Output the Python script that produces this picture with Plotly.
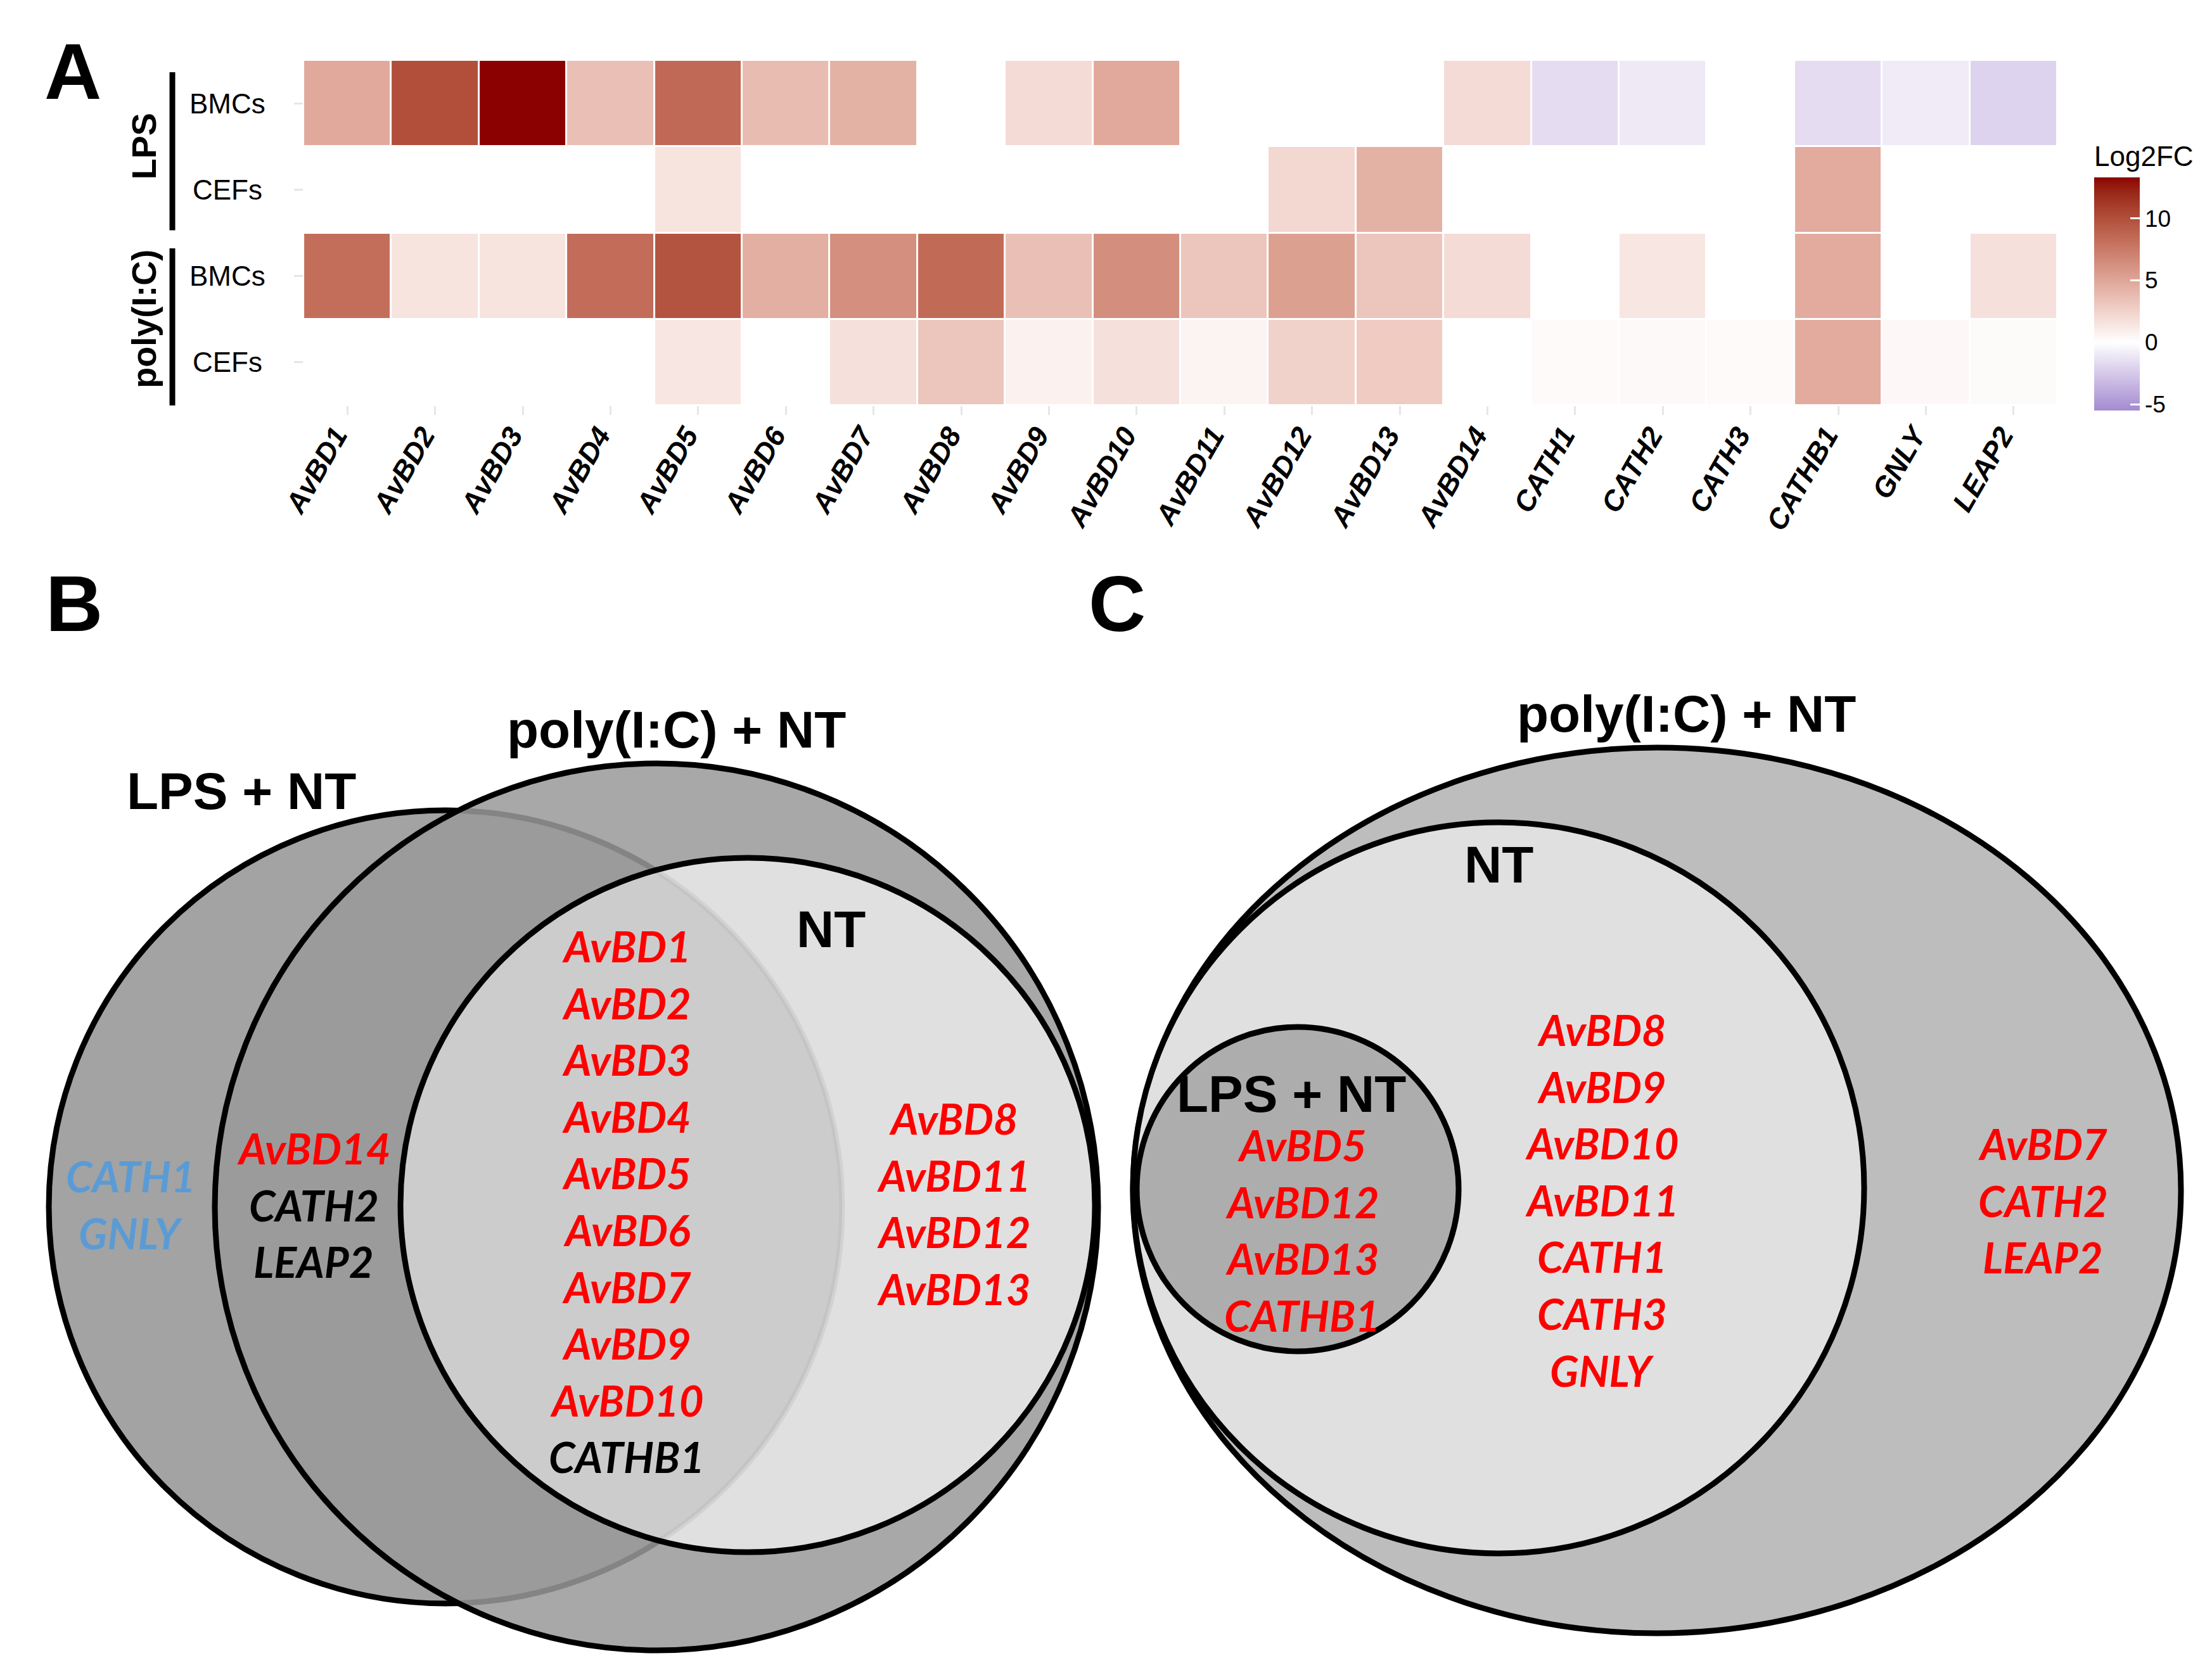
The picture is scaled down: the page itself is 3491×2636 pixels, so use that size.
import numpy as np
import plotly.graph_objects as go

# ---------------- data ----------------
genes = ["AvBD1", "AvBD2", "AvBD3", "AvBD4", "AvBD5", "AvBD6", "AvBD7", "AvBD8", "AvBD9", "AvBD10",
         "AvBD11", "AvBD12", "AvBD13", "AvBD14", "CATH1", "CATH2", "CATH3", "CATHB1", "GNLY", "LEAP2"]
row_labels = ["BMCs", "CEFs", "BMCs", "CEFs"]
group_labels = ["LPS", "poly(I:C)"]
N = None
lps_bmcs = [4.8, 10.0, 13.3, 3.5, 8.5, 3.7, 4.3, N, 2.0, 4.8, N, N, N, 2.0, -1.6, -1.0, N, -1.6, -0.9, -2.0]
lps_cefs = [N, N, N, N, 1.5, N, N, N, N, N, N, 2.2, 4.3, N, N, N, N, 4.7, N, N]
pic_bmcs = [8.2, 1.5, 1.5, 8.3, 9.7, 4.5, 6.3, 8.4, 3.5, 6.4, 3.2, 5.3, 3.2, 2.0, N, 1.4, N, 4.7, N, 1.7]
pic_cefs = [N, N, N, N, 1.4, N, 1.7, 3.2, 0.8, 1.7, 0.6, 2.5, 2.9, N, 0.3, 0.35, 0.3, 4.7, 0.4, 0.25]
cbar_ticks = [-5, 0, 5, 10]
cbar_ticktext = ["-5", "0", "5", "10"]
zmin, zmax = -5.5, 13.3

# Venn gene lists (text, colour key)
B_lps_only = ["CATH1", "GNLY"]
B_lps_only_c = ["blue", "blue"]
B_lps_poly = ["AvBD14", "CATH2", "LEAP2"]
B_lps_poly_c = ["red", "black", "black"]
B_all = ["AvBD1", "AvBD2", "AvBD3", "AvBD4", "AvBD5", "AvBD6", "AvBD7", "AvBD9", "AvBD10", "CATHB1"]
B_all_c = ["red"] * 9 + ["black"]
B_nt_poly = ["AvBD8", "AvBD11", "AvBD12", "AvBD13"]
B_nt_poly_c = ["red"] * 4
C_lps = ["AvBD5", "AvBD12", "AvBD13", "CATHB1"]
C_lps_c = ["red"] * 4
C_nt = ["AvBD8", "AvBD9", "AvBD10", "AvBD11", "CATH1", "CATH3", "GNLY"]
C_nt_c = ["red"] * 7
C_poly = ["AvBD7", "CATH2", "LEAP2"]
C_poly_c = ["red"] * 3

# ---------------- colour helpers (Lab interpolation like ggplot) ----------------
def hex2rgb(h):
    h = h.lstrip("#")
    return np.array([int(h[i:i + 2], 16) for i in (0, 2, 4)], float) / 255


def rgb2lab(c):
    c = np.where(c > 0.04045, ((c + 0.055) / 1.055) ** 2.4, c / 12.92)
    M = np.array([[0.4124, 0.3576, 0.1805], [0.2126, 0.7152, 0.0722], [0.0193, 0.1192, 0.9505]])
    xyz = M @ c / np.array([0.95047, 1.0, 1.08883])
    f = np.where(xyz > 0.008856, np.cbrt(xyz), 7.787 * xyz + 16 / 116)
    return np.array([116 * f[1] - 16, 500 * (f[0] - f[1]), 200 * (f[1] - f[2])])


def lab2rgb(lab):
    L, a, b = lab
    fy = (L + 16) / 116
    fx = fy + a / 500
    fz = fy - b / 200
    f = np.array([fx, fy, fz])
    xyz = np.where(f ** 3 > 0.008856, f ** 3, (f - 16 / 116) / 7.787) * np.array([0.95047, 1.0, 1.08883])
    Mi = np.array([[3.2406, -1.5372, -0.4986], [-0.9689, 1.8758, 0.0415], [0.0557, -0.2040, 1.0570]])
    c = Mi @ xyz
    c = np.where(c > 0.0031308, 1.055 * np.clip(c, 0, None) ** (1 / 2.4) - 0.055, 12.92 * c)
    c = np.clip(c, 0, 1)
    return "rgb(%d,%d,%d)" % tuple(np.round(c * 255))


lab_hi = rgb2lab(hex2rgb("#8B0000"))
lab_mid = rgb2lab(hex2rgb("#FFFFFF"))
lab_lo = rgb2lab(hex2rgb("#A38BD0"))
colorscale = []
for v in np.concatenate([np.linspace(zmin, 0, 15), np.linspace(0, zmax, 41)[1:]]):
    if v >= 0:
        t = v / zmax
        lab = lab_mid + (lab_hi - lab_mid) * t
    else:
        t = v / zmin
        lab = lab_mid + (lab_lo - lab_mid) * t
    colorscale.append([float((v - zmin) / (zmax - zmin)), lab2rgb(lab)])
colorscale[0][0] = 0.0
colorscale[-1][0] = 1.0

W, H = 3491, 2636
# horizontal placement calibration (pixel = SX * x + OX)
SX, OX = 1.011, -39.4


def px(x):
    return (SX * x + OX) / W


z = [lps_bmcs, lps_cefs, pic_bmcs, pic_cefs]

fig = go.Figure()
fig.add_trace(go.Heatmap(
    z=z, x=genes, y=list(range(len(row_labels))),
    zmin=zmin, zmax=zmax, colorscale=colorscale,
    xgap=3, ygap=3, hoverongaps=False,
    colorbar=dict(
        title=dict(text="Log2FC", side="top", font=dict(family="Liberation Sans", size=44, color="black")),
        thickness=72, len=(648 - 226) / H, lenmode="fraction", y=1 - 648 / H, yanchor="bottom",
        x=px(3306), xanchor="left", xpad=0, ypad=0, outlinewidth=0,
        tickvals=cbar_ticks, ticktext=cbar_ticktext, ticks="inside", ticklen=15, tickwidth=3,
        tickcolor="white", tickfont=dict(family="Liberation Sans", size=37, color="black"),
    ),
    xaxis="x", yaxis="y",
))
# empty trace to instantiate the Venn overlay axes
fig.add_trace(go.Scatter(x=[], y=[], xaxis="x2", yaxis="y2", showlegend=False))

r0 = -OX / SX
fig.update_layout(
    width=W, height=H, margin=dict(l=0, r=0, t=0, b=0, pad=0),
    paper_bgcolor="white", plot_bgcolor="rgba(0,0,0,0)", showlegend=False,
    xaxis=dict(domain=[px(480), px(3248)], anchor="y", showgrid=False, zeroline=False, showline=False,
               ticks="outside", ticklen=14, tickwidth=3, tickcolor="#e6e6e6", tickangle=-60,
               tickfont=dict(family="Liberation Sans", size=45, color="black", style="italic",
                             weight="bold"),
               ticklabelstandoff=-12, ticklabelshift=-18),
    yaxis=dict(domain=[1 - 640 / H, 1 - 95 / H], anchor="x", autorange=False, range=[3.5, -0.5],
               showgrid=False, zeroline=False, showline=False, showticklabels=False,
               tickvals=list(range(len(row_labels))), ticks="outside", ticklen=14, tickwidth=3,
               tickcolor="#e6e6e6"),
    xaxis2=dict(domain=[0, 1], range=[r0, r0 + W / SX], anchor="y2", visible=False, fixedrange=True),
    yaxis2=dict(domain=[0, 1], range=[H, 0], anchor="x2", visible=False, fixedrange=True),
)

ann = []
# heatmap row labels (centred) and group labels
for i, lab in enumerate(row_labels):
    ann.append(dict(text=lab, x=px(360), xref="paper", y=i, yref="y", showarrow=False,
                    xanchor="center", yanchor="middle",
                    font=dict(family="Liberation Sans", size=44, color="black")))
for g, lab in enumerate(group_labels):
    ann.append(dict(text="<b>%s</b>" % lab, x=px(228), xref="paper", y=2 * g + 0.5, yref="y",
                    showarrow=False, textangle=-90, xanchor="center", yanchor="middle",
                    font=dict(family="Liberation Sans", size=54, color="black")))
shapes = []
for y0, y1 in [(-0.36, 1.47), (1.68, 3.53)]:
    shapes.append(dict(type="line", xref="paper", yref="y", x0=px(273), x1=px(273), y0=y0, y1=y1,
                       line=dict(color="black", width=9)))

# panel letters
for letter, lx, ly in [("A", 116, 112), ("B", 118, 952), ("C", 1764, 952)]:
    ann.append(dict(text="<b>%s</b>" % letter, x=lx, y=ly, xref="x2", yref="y2", showarrow=False,
                    xanchor="center", yanchor="middle",
                    font=dict(family="Liberation Sans", size=125, color="black")))


# Venn circles (pixel space of overlay axes)
def ellipse(cx, cy, rx, ry, fill, lw=9, line="black"):
    return dict(type="circle", xref="x2", yref="y2", x0=cx - rx, x1=cx + rx, y0=cy - ry, y1=cy + ry,
                fillcolor=fill, line=dict(color=line, width=lw), layer="above")


def lens(c1, r1, c2, r2, fill, n=120):
    (x1, y1), (x2, y2) = c1, c2
    d = np.hypot(x2 - x1, y2 - y1)
    th = np.arctan2(y2 - y1, x2 - x1)
    al = np.arccos((d * d + r1 * r1 - r2 * r2) / (2 * d * r1))
    ph = th + np.pi
    be = np.arccos((d * d + r2 * r2 - r1 * r1) / (2 * d * r2))
    a1 = np.linspace(th - al, th + al, n)
    a2 = np.linspace(ph - be, ph + be, n)
    xs = np.concatenate([x1 + r1 * np.cos(a1), x2 + r2 * np.cos(a2)])
    ys = np.concatenate([y1 + r1 * np.sin(a1), y2 + r2 * np.sin(a2)])
    path = "M " + " L ".join("%.1f,%.1f" % (a, b) for a, b in zip(xs, ys)) + " Z"
    return dict(type="path", xref="x2", yref="y2", path=path, fillcolor=fill,
                line=dict(width=0), layer="above")


B_lps_c, B_lps_r = (704, 1905), 626
B_nt_c, B_nt_r = (1181, 1902), 548
shapes += [
    ellipse(*B_lps_c, B_lps_r, B_lps_r, "rgb(163,163,163)"),
    ellipse(1037, 1905, 697, 700, "rgba(154,154,154,0.86)"),
    ellipse(*B_nt_c, B_nt_r, B_nt_r, "rgba(255,255,255,0.64)"),
    lens(B_nt_c, B_nt_r, B_lps_c, B_lps_r, "rgba(0,0,0,0.065)"),
    ellipse(2616, 1879, 827, 699, "rgb(189,189,189)"),
    ellipse(2366, 1875, 577, 577, "rgb(224,224,224)"),
    ellipse(2049, 1877, 254, 256, "rgb(173,173,173)"),
]

# Venn set labels
for txt, lx, ly in [("LPS + NT", 382, 1248), ("poly(I:C) + NT", 1068, 1151), ("NT", 1312, 1466),
                    ("poly(I:C) + NT", 2662, 1126), ("NT", 2366, 1364), ("LPS + NT", 2039, 1726)]:
    ann.append(dict(text="<b>%s</b>" % txt, x=lx, y=ly, xref="x2", yref="y2", showarrow=False,
                    xanchor="center", yanchor="middle",
                    font=dict(family="Liberation Sans", size=82, color="black")))

palette = {"red": "#ff0000", "black": "#000000", "blue": "#5b9bd5"}
step = 89.6
for names, cols, lx, ly in [
    (B_lps_only, B_lps_only_c, 207, 1856), (B_lps_poly, B_lps_poly_c, 496, 1812),
    (B_all, B_all_c, 990, 1493), (B_nt_poly, B_nt_poly_c, 1506, 1765),
    (C_lps, C_lps_c, 2056, 1807), (C_nt, C_nt_c, 2529, 1625), (C_poly, C_poly_c, 3225, 1805),
]:
    for k, (nm, c) in enumerate(zip(names, cols)):
        ann.append(dict(text="<b><i>%s</i></b>" % nm, x=lx, y=ly + k * step, xref="x2", yref="y2",
                        showarrow=False, xanchor="center", yanchor="middle",
                        font=dict(family="Lato", size=67, color=palette[c])))

fig.update_layout(annotations=ann, shapes=shapes)
fig.write_html("out.html", config={"displayModeBar": False},
               post_script="document.body.style.margin='0px';")
